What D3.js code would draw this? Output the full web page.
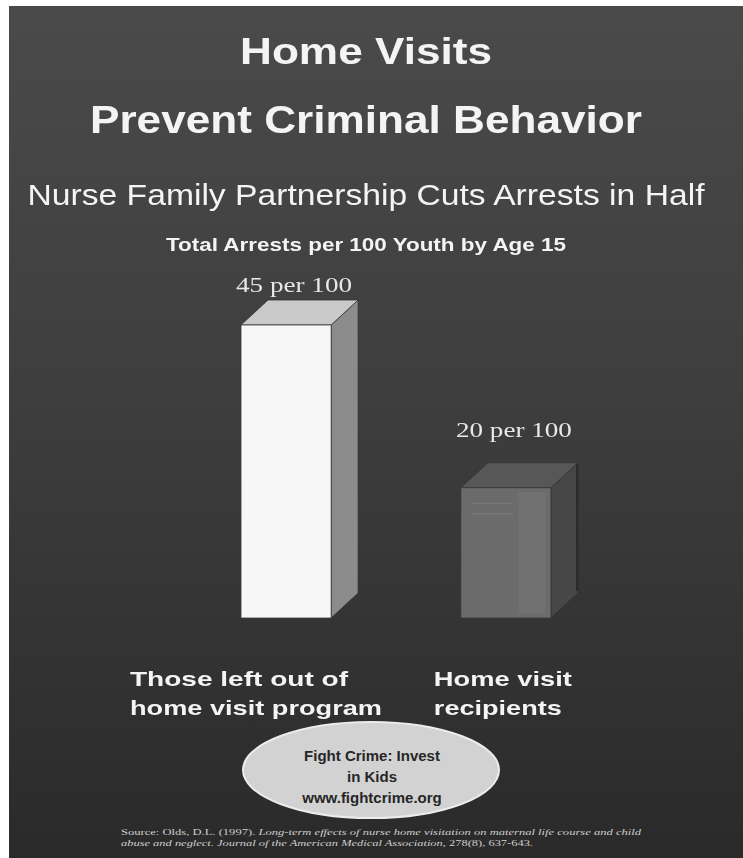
<!DOCTYPE html>
<html>
<head>
<meta charset="utf-8">
<script src="https://cdn.jsdelivr.net/npm/d3@7"></script>
<style>
  html, body { margin: 0; padding: 0; background: #fff; }
  svg { display: block; }
  .sans { font-family: "Liberation Sans", Arial, sans-serif; }
  .serif { font-family: "Liberation Serif", "Times New Roman", serif; }
</style>
</head>
<body>
<svg id="chart" width="743" height="858"></svg>
<script>
// chart values
const categories = ['left', 'recipients'];
const arrests = [45, 20];
const valueLabels = ['45 per 100', '20 per 100'];
const categoryLines = [
    ['Those left out of', 'home visit program'],
    ['Home visit', 'recipients']
];
const titleLines = ['Home Visits', 'Prevent Criminal Behavior'];
const subtitle = 'Nurse Family Partnership Cuts Arrests in Half';
const measureTitle = 'Total Arrests per 100 Youth by Age 15';
const badgeLines = ['Fight Crime: Invest', 'in Kids', 'www.fightcrime.org'];

const width = 743, height = 858;
const svg = d3.select('#chart');

// background panel
const defs = svg.append('defs');
const grad = defs.append('linearGradient')
    .attr('id', 'bg').attr('x1', 0).attr('y1', 0).attr('x2', 0).attr('y2', 1);
grad.append('stop').attr('offset', '0%').attr('stop-color', '#4a4a4a');
grad.append('stop').attr('offset', '45%').attr('stop-color', '#3e3e3e');
grad.append('stop').attr('offset', '100%').attr('stop-color', '#2a2a2a');

const soft = defs.append('filter').attr('id', 'soft')
    .attr('x', '-5%').attr('y', '-20%').attr('width', '110%').attr('height', '140%');
soft.append('feGaussianBlur').attr('stdDeviation', 0.45);

svg.append('rect')
    .attr('x', 9).attr('y', 6)
    .attr('width', width - 9).attr('height', height - 6)
    .attr('fill', 'url(#bg)');

// headings
const textLayer = svg.append('g').attr('filter', 'url(#soft)');
const headings = [
    {text: titleLines[0], y: 64, size: 37, weight: 'bold', len: 252},
    {text: titleLines[1], y: 133, size: 38, weight: 'bold', len: 552},
    {text: subtitle, y: 205, size: 29, weight: 'normal', len: 677},
    {text: measureTitle, y: 251, size: 18, weight: 'bold', len: 400}
];
textLayer.selectAll('text.heading')
    .data(headings)
    .join('text')
    .attr('class', 'heading sans')
    .attr('x', 366)
    .attr('y', d => d.y)
    .attr('text-anchor', 'middle')
    .attr('font-size', d => d.size)
    .attr('font-weight', d => d.weight)
    .attr('textLength', d => d.len)
    .attr('lengthAdjust', 'spacingAndGlyphs')
    .attr('fill', '#f4f4f4')
    .text(d => d.text);

// scales
const x = d3.scaleBand()
    .domain(categories)
    .range([241, 551])
    .paddingInner(0.59)
    .paddingOuter(0);
const y = d3.scaleLinear()
    .domain([0, 45])
    .range([618, 325]);

const depthX = 27, depthY = -25;
const faces = [
    {front: '#f7f7f7', top: '#c9c9c9', side: '#8c8c8c', inner: null},
    {front: '#6b6b6b', top: '#575757', side: '#474747', inner: '#747474'}
];

const bars = svg.append('g')
    .selectAll('g.bar')
    .data(categories.map((c, i) => ({cat: c, value: arrests[i], style: faces[i], label: valueLabels[i]})))
    .join('g')
    .attr('class', 'bar');

// side face
bars.append('path')
    .attr('d', d => {
        const x1 = x(d.cat) + x.bandwidth(), y0 = y(0), y1 = y(d.value);
        return 'M' + x1 + ',' + y1 + ' L' + (x1 + depthX) + ',' + (y1 + depthY) +
            ' L' + (x1 + depthX) + ',' + (y0 + depthY) + ' L' + x1 + ',' + y0 + ' Z';
    })
    .attr('fill', d => d.style.side)
    .attr('stroke', '#2e2e2e')
    .attr('stroke-width', 0.8);

// top face
bars.append('path')
    .attr('d', d => {
        const x0 = x(d.cat), x1 = x0 + x.bandwidth(), y1 = y(d.value);
        return 'M' + x0 + ',' + y1 + ' L' + (x0 + depthX) + ',' + (y1 + depthY) +
            ' L' + (x1 + depthX) + ',' + (y1 + depthY) + ' L' + x1 + ',' + y1 + ' Z';
    })
    .attr('fill', d => d.style.top)
    .attr('stroke', '#333')
    .attr('stroke-width', 0.8);

// front face
bars.append('rect')
    .attr('x', d => x(d.cat))
    .attr('y', d => y(d.value))
    .attr('width', x.bandwidth())
    .attr('height', d => y(0) - y(d.value))
    .attr('fill', d => d.style.front)
    .attr('stroke', '#383838')
    .attr('stroke-width', 0.8);

// faint inner panes on the see-through bar
const inner = bars.filter(d => d.style.inner);
inner.append('rect')
    .attr('x', d => x(d.cat) + x.bandwidth() * 0.64)
    .attr('y', d => y(d.value) + 4)
    .attr('width', x.bandwidth() * 0.3)
    .attr('height', d => y(0) - y(d.value) - 8)
    .attr('fill', d => d.style.inner)
    .attr('opacity', 0.7);
inner.selectAll('line.pane')
    .data(d => [0.12, 0.2].map(f => ({d, f})))
    .join('line')
    .attr('class', 'pane')
    .attr('x1', p => x(p.d.cat) + 10)
    .attr('x2', p => x(p.d.cat) + x.bandwidth() * 0.58)
    .attr('y1', p => y(p.d.value) + (y(0) - y(p.d.value)) * p.f)
    .attr('y2', p => y(p.d.value) + (y(0) - y(p.d.value)) * p.f)
    .attr('stroke', '#7c7c7c')
    .attr('stroke-width', 1.5)
    .attr('opacity', 0.8);
inner.append('line')
    .attr('x1', d => x(d.cat) + x.bandwidth() + depthX - 1)
    .attr('x2', d => x(d.cat) + x.bandwidth() + depthX - 1)
    .attr('y1', d => y(d.value) + depthY + 2)
    .attr('y2', d => y(0) + depthY - 2)
    .attr('stroke', '#262626')
    .attr('stroke-width', 1.6);

// value labels
const labelDy = [-8, -26];
textLayer.selectAll('text.value')
    .data(categories.map((c, i) => ({cat: c, value: arrests[i], label: valueLabels[i], i})))
    .join('text')
    .attr('class', 'value serif')
    .attr('x', d => x(d.cat) + x.bandwidth() / 2 + 8)
    .attr('y', d => y(d.value) + depthY + labelDy[d.i])
    .attr('text-anchor', 'middle')
    .attr('font-size', 22)
    .attr('textLength', 116)
    .attr('lengthAdjust', 'spacingAndGlyphs')
    .attr('fill', '#e8e8e8')
    .text(d => d.label);

// category labels
const labelDx = [-111, -27];
const labelLen = [[218, 252], [138, 128]];
const catLabels = textLayer.selectAll('g.cat')
    .data(categories)
    .join('g')
    .attr('class', 'cat');
catLabels.selectAll('text')
    .data((c, i) => categoryLines[i].map((t, j) => ({t, j, c, i})))
    .join('text')
    .attr('class', 'sans')
    .attr('x', d => x(d.c) + labelDx[d.i])
    .attr('y', d => 686 + d.j * 29)
    .attr('font-size', 21)
    .attr('font-weight', 'bold')
    .attr('textLength', d => labelLen[d.i][d.j])
    .attr('lengthAdjust', 'spacingAndGlyphs')
    .attr('fill', '#f4f4f4')
    .text(d => d.t);

// badge
const badge = svg.append('g');
badge.append('ellipse')
    .attr('cx', 371).attr('cy', 770)
    .attr('rx', 128).attr('ry', 48)
    .attr('fill', '#d2d2d2')
    .attr('stroke', '#ececec')
    .attr('stroke-width', 2);
badge.selectAll('text')
    .data(badgeLines)
    .join('text')
    .attr('class', 'sans')
    .attr('x', 372)
    .attr('y', (d, i) => 761 + i * 21)
    .attr('text-anchor', 'middle')
    .attr('font-size', 15)
    .attr('font-weight', 'bold')
    .attr('fill', '#262626')
    .text(d => d);

// source note
const note = svg.append('g').attr('class', 'serif')
    .attr('font-size', 8).attr('fill', '#cfcfcf');
const n1 = note.append('text').attr('x', 121).attr('y', 835)
    .attr('textLength', 520).attr('lengthAdjust', 'spacingAndGlyphs');
n1.append('tspan').text('Source: Olds, D.L. (1997).  ');
n1.append('tspan').attr('font-style', 'italic')
    .text('Long-term effects of nurse home visitation on maternal life course and child');
const n2 = note.append('text').attr('x', 121).attr('y', 846)
    .attr('textLength', 412).attr('lengthAdjust', 'spacingAndGlyphs');
n2.append('tspan').attr('font-style', 'italic').text('abuse and neglect.  ');
n2.append('tspan').attr('font-style', 'italic')
    .text('Journal of the American Medical Association, ');
n2.append('tspan').text('278(8), 637-643.');
</script>
</body>
</html>
